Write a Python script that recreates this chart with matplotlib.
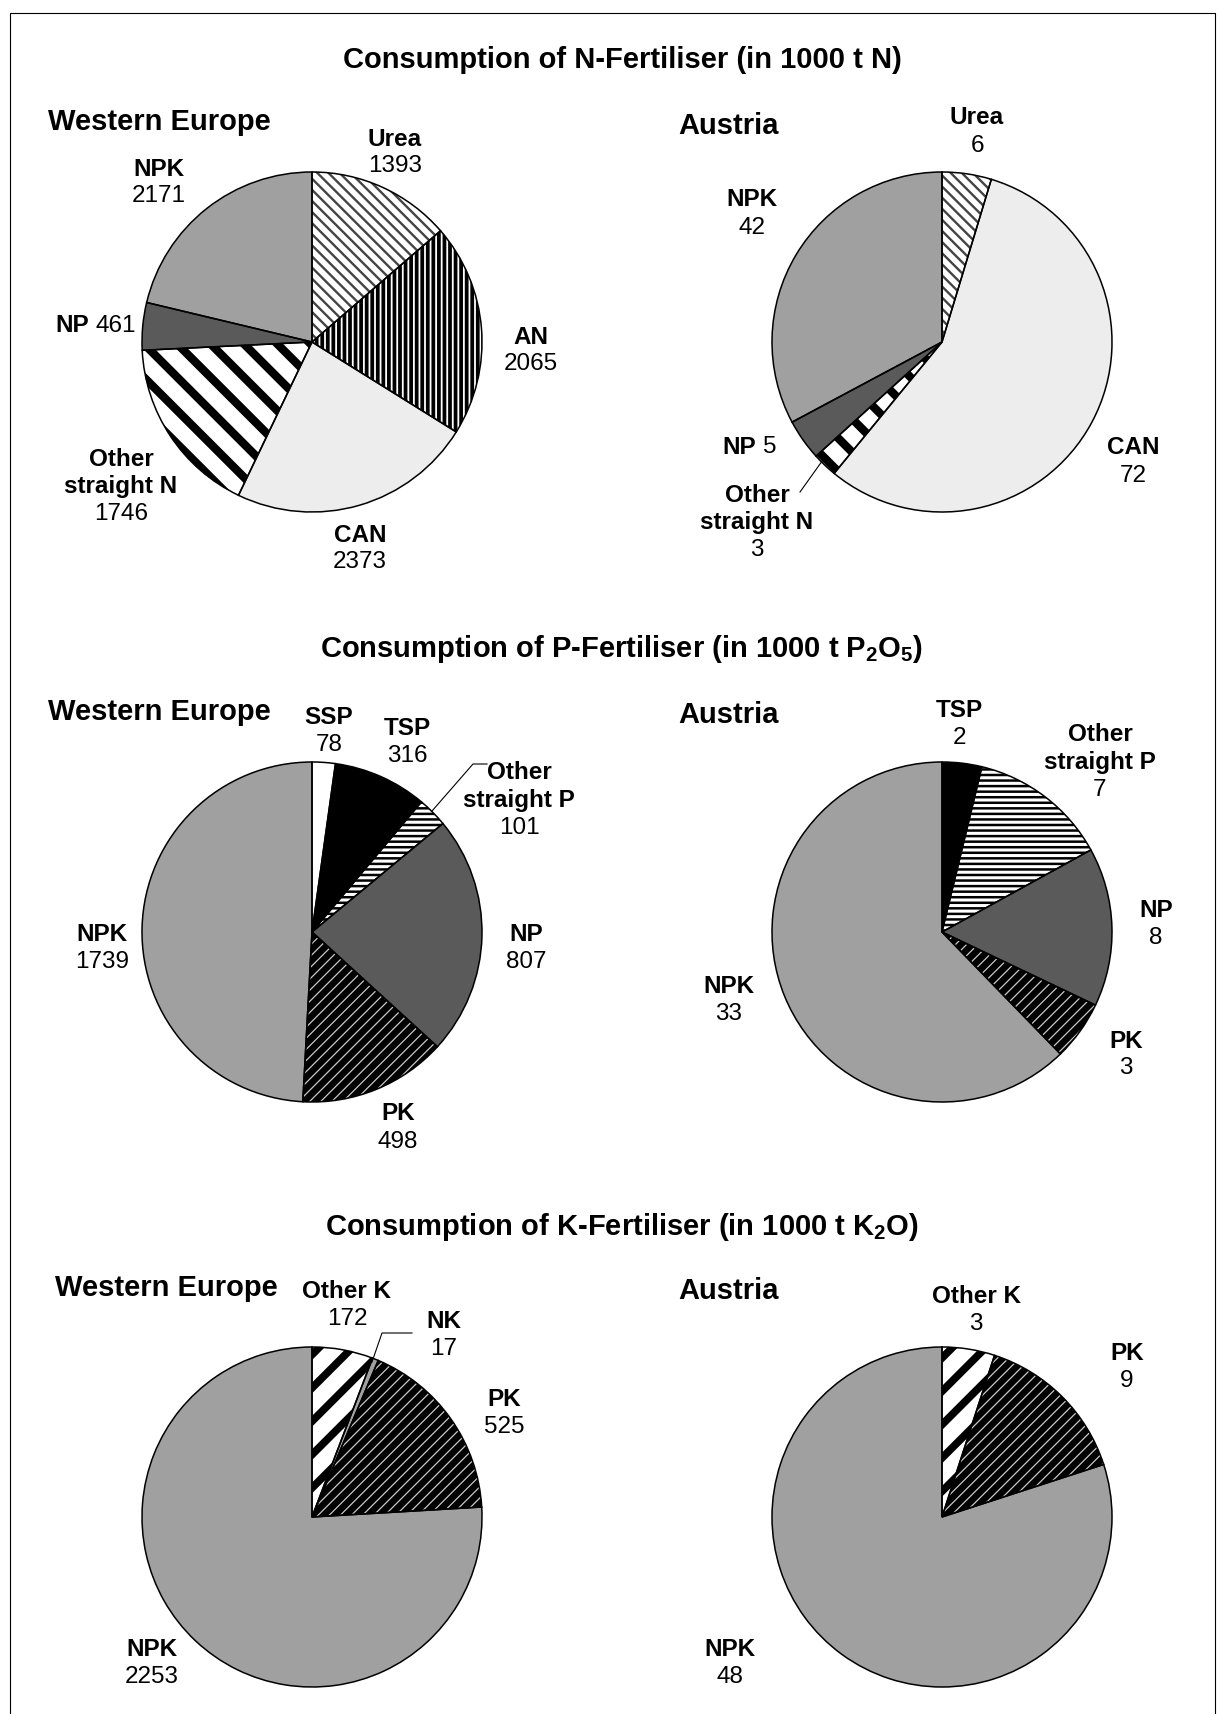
import matplotlib
matplotlib.use("Agg")
from matplotlib import pyplot as plt

plt.rcParams['font.family'] = ['Liberation Sans', 'DejaVu Sans']
plt.rcParams['mathtext.fontset'] = 'custom'
plt.rcParams['mathtext.rm'] = 'Liberation Sans'
plt.rcParams['mathtext.bf'] = 'Liberation Sans:bold'

# data (1000 t nutrient)
n_we_names = ['Urea', 'AN', 'CAN', 'Other\nstraight N', 'NP', 'NPK']
n_we_vals = [1393, 2065, 2373, 1746, 461, 2171]
n_at_names = ['Urea', 'CAN', 'Other\nstraight N', 'NP', 'NPK']
n_at_vals = [6, 72, 3, 5, 42]

p_we_names = ['SSP', 'TSP', 'Other\nstraight P', 'NP', 'PK', 'NPK']
p_we_vals = [78, 316, 101, 807, 498, 1739]
p_at_names = ['TSP', 'Other\nstraight P', 'NP', 'PK', 'NPK']
p_at_vals = [2, 7, 8, 3, 33]

k_we_names = ['Other K', 'NK', 'PK', 'NPK']
k_we_vals = [172, 17, 525, 2253]
k_at_names = ['Other K', 'PK', 'NPK']
k_at_vals = [3, 9, 48]

titles = ['Consumption of N-Fertiliser (in 1000 t N)',
          r'Consumption of P-Fertiliser (in 1000 t P$_{\mathbf{2}}$O$_{\mathbf{5}}$)',
          r'Consumption of K-Fertiliser (in 1000 t K$_{\mathbf{2}}$O)']

# face colour, hatch, hatch colour, hatch linewidth
styles = {
    'Urea': ('white', '\\\\\\', '#444444', 1.7),
    'AN': ('black', '|||', 'white', 1.3),
    'CAN': ('#ededed', None, None, 0),
    'Other\nstraight N': ('white', '\\', 'black', 6.0),
    'NP': ('#5a5a5a', None, None, 0),
    'NPK': ('#a0a0a0', None, None, 0),
    'SSP': ('white', None, None, 0),
    'TSP': ('black', None, None, 0),
    'Other\nstraight P': ('white', '---', 'black', 1.8),
    'PK': ('black', '///', '#c8c8c8', 0.9),
    'NK': ('#a0a0a0', None, None, 0),
    'Other K': ('white', '/', 'black', 5.5),
}

W, H = 1218, 1715
R = 170
fig = plt.figure(figsize=(W / 100, H / 100), dpi=100)
ax = fig.add_axes([0, 0, 1, 1])


def draw_pie(names, vals, cx, cy):
    faces = [styles[n][0] for n in names]
    wedges, _ = ax.pie(vals, startangle=90, counterclock=False, center=(cx, H - cy),
                       radius=R, colors=faces, wedgeprops=dict(linewidth=0))
    for w, n in zip(wedges, names):
        face, hatch, hcol, hlw = styles[n]
        if hatch:
            w.set_hatch(hatch)
            w.set_edgecolor(hcol)
            if hasattr(w, 'set_hatch_linewidth'):
                w.set_hatch_linewidth(hlw)
    ax.pie(vals, startangle=90, counterclock=False, center=(cx, H - cy), radius=R,
           wedgeprops=dict(fill=False, edgecolor='black', linewidth=1.1))


def label(x, y, name, value, dy=27.5):
    lines = name.split('\n')
    for i, ln in enumerate(lines):
        ax.text(x, H - (y + i * dy), ln, ha='center', va='center',
                fontsize=17.5, fontweight='bold')
    ax.text(x, H - (y + len(lines) * dy), str(value), ha='center', va='center', fontsize=17.5)


def label_inline(x, y, name, value):
    ax.text(x - 3, H - y, name, ha='right', va='center', fontsize=17.5, fontweight='bold')
    ax.text(x + 4, H - y, str(value), ha='left', va='center', fontsize=17.5)


def leader(pts):
    ax.plot([p[0] for p in pts], [H - p[1] for p in pts], color='black', lw=0.8)


col = [312, 942]
row = [343, 933, 1518]

draw_pie(n_we_names, n_we_vals, col[0], row[0])
draw_pie(n_at_names, n_at_vals, col[1], row[0])
draw_pie(p_we_names, p_we_vals, col[0], row[1])
draw_pie(p_at_names, p_at_vals, col[1], row[1])
draw_pie(k_we_names, k_we_vals, col[0], row[2])
draw_pie(k_at_names, k_at_vals, col[1], row[2])

# titles
for t, y in zip(titles, [60, 649, 1227]):
    ax.text(622, H - y, t, ha='center', va='center', fontsize=21, fontweight='bold')
for x, y in [(48, 122), (48, 712), (55, 1288)]:
    ax.text(x, H - y, 'Western Europe', ha='left', va='center', fontsize=21, fontweight='bold')
for y in [126, 715, 1291]:
    ax.text(678, H - y, 'Austria', ha='left', va='center', fontsize=21, fontweight='bold')

# N labels
pos = {'Urea': (395, 139), 'AN': (531, 337), 'CAN': (360, 535),
       'Other\nstraight N': (121, 459), 'NPK': (159, 169)}
for n, v in zip(n_we_names, n_we_vals):
    if n == 'NP':
        label_inline(92, 326, n, v)
    else:
        label(*pos[n], n, v)
pos = {'Urea': (977, 118), 'CAN': (1133, 448), 'Other\nstraight N': (757, 495),
       'NPK': (752, 200)}
for n, v in zip(n_at_names, n_at_vals):
    if n == 'NP':
        label_inline(759, 447, n, v)
    else:
        label(*pos[n], n, v)
leader([(800, 493), (825, 458)])

# P labels
pos = {'SSP': (329, 718), 'TSP': (407, 729), 'Other\nstraight P': (519, 773),
       'NP': (526, 935), 'PK': (398, 1114), 'NPK': (102, 935)}
for n, v in zip(p_we_names, p_we_vals):
    label(*pos[n], n, v)
leader([(432, 812), (473, 765), (487, 765)])
pos = {'TSP': (959, 711), 'Other\nstraight P': (1100, 735), 'NP': (1156, 911),
       'PK': (1126, 1041), 'NPK': (729, 987)}
for n, v in zip(p_at_names, p_at_vals):
    label(*pos[n], n, v)

# K labels
pos = {'Other K': (347, 1292), 'NK': (444, 1322), 'PK': (504, 1400), 'NPK': (152, 1650)}
for n, v in zip(k_we_names, k_we_vals):
    label(*pos[n], n, v)
leader([(412, 1334), (382, 1334), (372, 1363)])
pos = {'Other K': (976, 1297), 'PK': (1127, 1354), 'NPK': (730, 1650)}
for n, v in zip(k_at_names, k_at_vals):
    label(*pos[n], n, v)

# outer frame (open at the bottom)
leader([(10, H), (10, 14), (1215, 14), (1215, H)])

ax.set_xlim(0, W)
ax.set_ylim(0, H)
ax.set_aspect('auto')
ax.axis('off')
fig.savefig('out.png', dpi=100, facecolor='white')
